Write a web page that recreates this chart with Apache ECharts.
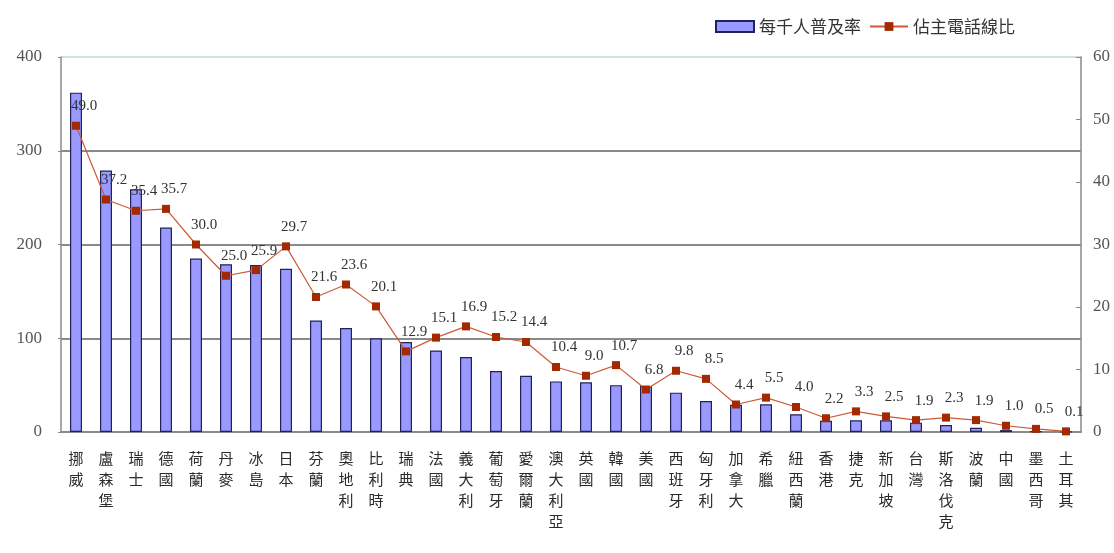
<!DOCTYPE html>
<html><head><meta charset="utf-8">
<script src="https://cdn.jsdelivr.net/npm/echarts@6/dist/echarts.min.js"></script>
<style>html,body{margin:0;padding:0;background:#fff}#c{width:1114px;height:553px}</style>
</head><body><div id="c"></div>
<script>
var categories = ['挪威','盧森堡','瑞士','德國','荷蘭','丹麥','冰島','日本','芬蘭','奧地利','比利時','瑞典','法國','義大利','葡萄牙','愛爾蘭','澳大利亞','英國','韓國','美國','西班牙','匈牙利','加拿大','希臘','紐西蘭','香港','捷克','新加坡','台灣','斯洛伐克','波蘭','中國','墨西哥','土耳其'];
var perThousand = [362,279,259,218,185,179,178,174,119,111,100,96,87,80,65,60,54,53,50,49,42,33,29,29.5,19,12,12.5,12.5,10,7.5,4.6,2,0.6,0.4];
var mainLineRatio = [49.0,37.2,35.4,35.7,30.0,25.0,25.9,29.7,21.6,23.6,20.1,12.9,15.1,16.9,15.2,14.4,10.4,9.0,10.7,6.8,9.8,8.5,4.4,5.5,4.0,2.2,3.3,2.5,1.9,2.3,1.9,1.0,0.5,0.1];
var leftTicks = [0,100,200,300,400];
var rightTicks = [0,10,20,30,40,50,60];
var seriesNames = ['每千人普及率','佔主電話線比'];

var numFont = '"Liberation Serif", "Times New Roman", serif';
var cjkFont = '"Noto Sans CJK TC", "Noto Sans CJK SC", sans-serif';
var chart = echarts.init(document.getElementById('c'), null, {renderer:'canvas'});
chart.setOption({
  backgroundColor:'#fff',
  animation:false,
  legend:{
    left:710, top:13, itemGap:8, itemWidth:38, itemHeight:11,
    textStyle:{fontFamily:cjkFont, fontSize:17, color:'#333'},
    data:[
      {name:seriesNames[0], icon:'rect'},
      {name:seriesNames[1]}
    ]
  },
  grid:{left:61, right:33, top:57, bottom:121},
  xAxis:{
    type:'category', data:categories,
    axisLine:{lineStyle:{color:'#8a8a8a', width:2}},
    axisTick:{inside:true, length:4, lineStyle:{color:'#8a8a8a'}},
    axisLabel:{interval:0, margin:16, fontFamily:cjkFont, fontSize:15, lineHeight:21, color:'#2a2a2a',
      formatter:function(v){return v.split('').join('\n');}}
  },
  yAxis:[
    {type:'value', min:0, max:400, interval:100,
     axisLine:{show:true, lineStyle:{color:'#8a8a8a', width:1.5}},
     axisTick:{show:true, length:3, lineStyle:{color:'#8a8a8a'}},
     axisLabel:{margin:19, fontFamily:numFont, fontSize:17, color:'#555',
       formatter:function(v){return leftTicks.indexOf(v)>=0?String(v):'';}},
     splitLine:{show:true, lineStyle:{color:['#8a8a8a','#8a8a8a','#8a8a8a','#8a8a8a','#d4e4d4'], width:2}}
    },
    {type:'value', min:0, max:60, interval:10, position:'right',
     axisLine:{show:true, lineStyle:{color:'#8a8a8a', width:1.5}},
     axisTick:{show:true, inside:true, length:5, lineStyle:{color:'#8a8a8a'}},
     axisLabel:{margin:12, fontFamily:numFont, fontSize:17, color:'#555',
       formatter:function(v){return rightTicks.indexOf(v)>=0?String(v):'';}},
     splitLine:{show:false}
    }
  ],
  series:[
    {name:seriesNames[0], type:'bar', yAxisIndex:0, data:perThousand, barWidth:12,
     itemStyle:{color:'#9999ff', borderColor:'#22225a', borderWidth:1.2}},
    {name:seriesNames[1], type:'line', yAxisIndex:1, data:mainLineRatio,
     symbol:'rect', symbolSize:8,
     lineStyle:{color:'#cc5a36', width:1.2},
     itemStyle:{color:'#a32a00'},
     label:{show:true, position:'top', distance:8, offset:[8,0], fontFamily:numFont, fontSize:15, color:'#333',
       formatter:function(p){return p.value.toFixed(1);}}
    }
  ]
});
</script></body></html>
